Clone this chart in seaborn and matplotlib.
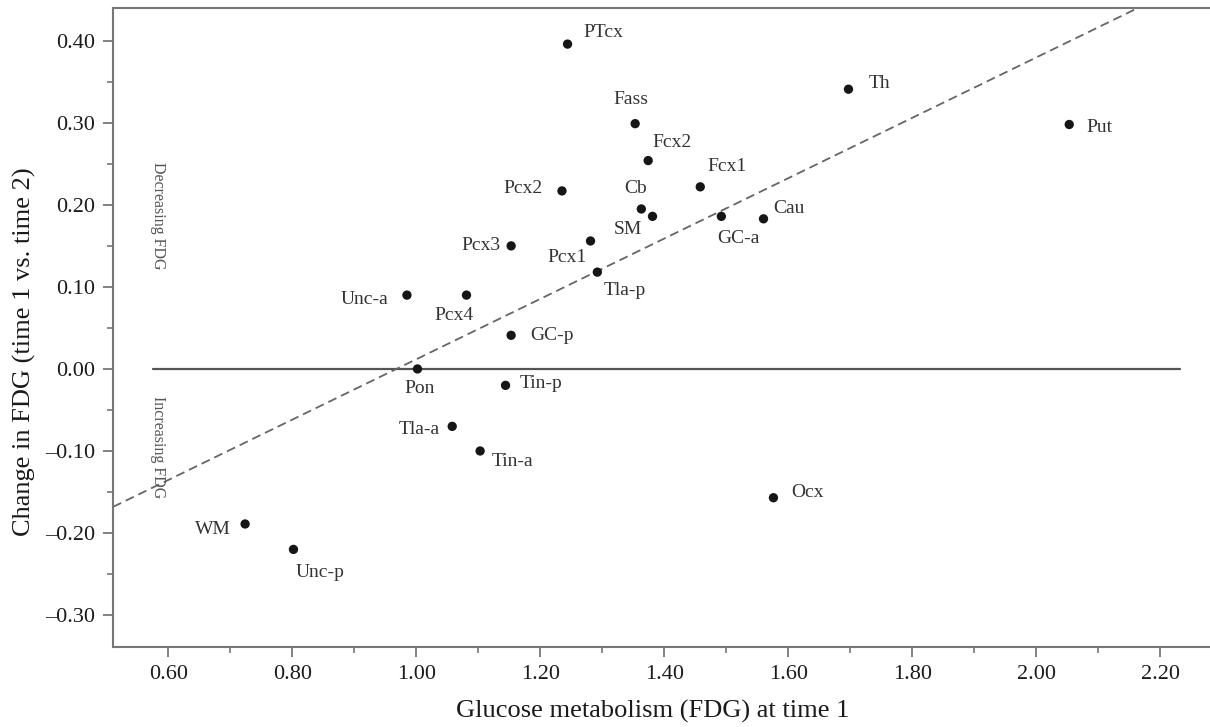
import numpy as np
import pandas as pd
import seaborn as sns
import matplotlib.pyplot as plt
from matplotlib.ticker import MultipleLocator, FuncFormatter

# regions
regions = ["PTcx", "Fass", "Fcx2", "Fcx1", "Pcx2", "Cb", "SM", "GC-a", "Cau",
           "Pcx1", "Pcx3", "Tla-p", "Unc-a", "Pcx4", "GC-p", "Pon", "Tin-p",
           "Tla-a", "Tin-a", "Ocx", "WM", "Unc-p", "Th", "Put"]
fdg_time1 = [1.244, 1.353, 1.374, 1.458, 1.235, 1.363, 1.381, 1.492, 1.560,
             1.281, 1.153, 1.292, 0.985, 1.081, 1.153, 1.002, 1.144,
             1.058, 1.103, 1.576, 0.724, 0.802, 1.697, 2.053]
fdg_change = [0.396, 0.299, 0.254, 0.222, 0.217, 0.195, 0.186, 0.186, 0.183,
              0.156, 0.150, 0.118, 0.090, 0.090, 0.041, 0.000, -0.020,
              -0.070, -0.100, -0.157, -0.189, -0.220, 0.341, 0.298]

# fitted line (slope, x where it crosses zero)
fit_slope = 0.368
fit_zero = 0.968

df = pd.DataFrame({"region": regions, "x": fdg_time1, "y": fdg_change})

# label placement: offset in pixels from the dot, horizontal alignment
label_pos = {
    "PTcx": (16, 12, "left"), "Fass": (-4, 24, "center"), "Fcx2": (4, 18, "left"),
    "Fcx1": (7, 20, "left"), "Pcx2": (-19, 2, "right"), "Cb": (-6, 20, "center"),
    "SM": (-25, -13, "center"), "GC-a": (17, -22, "center"), "Cau": (10, 10, "left"),
    "Pcx1": (-4, -17, "right"), "Pcx3": (-11, 0, "right"), "Tla-p": (6, -18, "left"),
    "Unc-a": (-19, -4, "right"), "Pcx4": (-13, -20, "center"), "GC-p": (19, 0, "left"),
    "Pon": (2, -20, "center"), "Tin-p": (14, 2, "left"), "Tla-a": (-12, -3, "right"),
    "Tin-a": (12, -11, "left"), "Ocx": (18, 5, "left"), "WM": (-14, -6, "right"),
    "Unc-p": (2, -23, "left"), "Th": (20, 6, "left"), "Put": (17, -3, "left"),
}

sns.set_theme(style="ticks")
plt.rcParams['font.family'] = ['Liberation Serif', 'DejaVu Serif']

fig = plt.figure(figsize=(12.1, 7.27), dpi=100)
ax = fig.add_axes([0.0934, 0.110, 0.9066, 0.879])

spine_col = "#777777"

ax.plot([0.575, 2.232], [0, 0], color="#555555", lw=1.6, zorder=1)
ax.axline((fit_zero, 0), slope=fit_slope, color="#666666", lw=1.3,
          dashes=(5, 2.8), zorder=1)

sns.scatterplot(data=df, x="x", y="y", ax=ax, color="#161616", s=45,
                edgecolor="none", zorder=3, legend=False)

for _, r in df.iterrows():
    dx, dy, ha = label_pos[r["region"]]
    ax.annotate(r["region"], (r["x"], r["y"]), xytext=(dx, dy),
                textcoords="offset pixels", ha=ha, va="center",
                fontsize=14, color="#333333")

ax.text(0.584, 0.187, "Decreasing FDG", rotation=270, ha="center", va="center",
        fontsize=11.5, color="#555555")
ax.text(0.584, -0.095, "Increasing FDG", rotation=270, ha="center", va="center",
        fontsize=11.5, color="#555555")

ax.set_xlim(0.511, 2.28)
ax.set_ylim(-0.339, 0.440)

ax.xaxis.set_major_locator(MultipleLocator(0.2))
ax.xaxis.set_minor_locator(MultipleLocator(0.1))
ax.yaxis.set_major_locator(MultipleLocator(0.1))
ax.yaxis.set_minor_locator(MultipleLocator(0.05))
fmt = FuncFormatter(lambda v, p: f"{v:.2f}".replace("-", "\u2013"))
ax.xaxis.set_major_formatter(fmt)
ax.yaxis.set_major_formatter(fmt)
ax.set_xticks(np.arange(0.6, 2.21, 0.2))
ax.set_yticks(np.arange(-0.3, 0.41, 0.1))

ax.tick_params(which="major", length=7, width=1.3, color=spine_col,
               labelsize=16, labelcolor="#1a1a1a", pad=6)
ax.tick_params(which="minor", length=4, width=1.2, color=spine_col)

for side in ["left", "bottom", "top"]:
    ax.spines[side].set_color(spine_col)
    ax.spines[side].set_linewidth(1.5)
ax.spines["right"].set_visible(False)

ax.set_xlabel("Glucose metabolism (FDG) at time 1", fontsize=19, color="#1a1a1a")
ax.set_ylabel("Change in FDG (time 1 vs. time 2)", fontsize=19, color="#1a1a1a")
ax.xaxis.set_label_coords(0.492, -0.083)
ax.yaxis.set_label_coords(-0.07, 0.462)

plt.savefig("out.png", dpi=100)
